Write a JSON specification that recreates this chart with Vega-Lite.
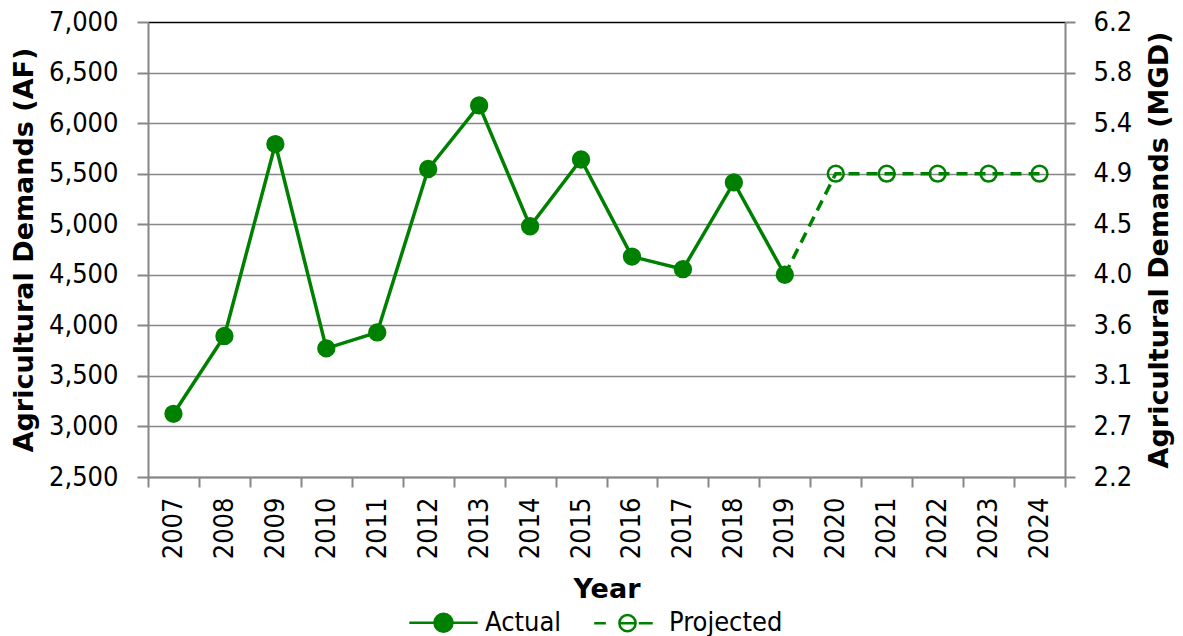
{
  "$schema": "https://vega.github.io/schema/vega-lite/v6.json",
  "width": 917,
  "height": 455,
  "autosize": {"type": "none"},
  "padding": {"left": 148, "top": 22, "right": 118, "bottom": 159},
  "background": "#ffffff",
  "config": {
    "view": {"stroke": null},
    "axis": {
      "labelFont": "DejaVu Sans Condensed, DejaVu Sans",
      "labelFontSize": 27,
      "labelColor": "#000000",
      "titleFont": "DejaVu Sans",
      "titleFontWeight": "bold",
      "titleFontSize": 27,
      "titleColor": "#000000",
      "domainColor": "#868686",
      "domainWidth": 2,
      "tickColor": "#868686",
      "tickWidth": 2,
      "gridColor": "#878787",
      "gridWidth": 1.6
    },
    "legend": {
      "orient": "bottom",
      "direction": "horizontal",
      "layout": {"bottom": {"anchor": "middle"}},
      "labelFont": "DejaVu Sans Condensed, DejaVu Sans",
      "labelFontSize": 27,
      "labelColor": "#000000",
      "symbolSize": 324,
      "symbolStrokeWidth": 2.5,
      "symbolStrokeColor": "#008000",
      "labelOffset": 28,
      "columnPadding": 27,
      "offset": 6
    }
  },
  "data": {
    "values": [
      {"year": 2007, "value": 3125, "series": "Actual"},
      {"year": 2008, "value": 3895, "series": "Actual"},
      {"year": 2009, "value": 5793, "series": "Actual"},
      {"year": 2010, "value": 3772, "series": "Actual"},
      {"year": 2011, "value": 3930, "series": "Actual"},
      {"year": 2012, "value": 5546, "series": "Actual"},
      {"year": 2013, "value": 6175, "series": "Actual"},
      {"year": 2014, "value": 4980, "series": "Actual"},
      {"year": 2015, "value": 5640, "series": "Actual"},
      {"year": 2016, "value": 4680, "series": "Actual"},
      {"year": 2017, "value": 4555, "series": "Actual"},
      {"year": 2018, "value": 5413, "series": "Actual"},
      {"year": 2019, "value": 4500, "series": "Actual"},
      {"year": 2019, "value": 4500, "series": "Projected"},
      {"year": 2020, "value": 5500, "series": "Projected"},
      {"year": 2021, "value": 5500, "series": "Projected"},
      {"year": 2022, "value": 5500, "series": "Projected"},
      {"year": 2023, "value": 5500, "series": "Projected"},
      {"year": 2024, "value": 5500, "series": "Projected"}
    ]
  },
  "encoding": {
    "x": {
      "field": "year",
      "type": "ordinal",
      "scale": {"type": "band", "paddingInner": 0, "paddingOuter": 0},
      "axis": {
        "title": "Year",
        "labelAngle": -90,
        "tickBand": "extent",
        "tickSize": 10,
        "labelPadding": 10,
        "titlePadding": 18,
        "grid": false
      }
    }
  },
  "layer": [
    {
      "layer": [
        {
          "transform": [{"filter": "datum.series == 'Actual'"}],
          "mark": {"type": "line", "color": "#008000", "strokeWidth": 3.5},
          "encoding": {
            "y": {
              "field": "value",
              "type": "quantitative",
              "scale": {"domain": [2500, 7000], "nice": false, "zero": false},
              "axis": {
                "title": "Agricultural Demands (AF)",
                "values": [2500, 3000, 3500, 4000, 4500, 5000, 5500, 6000, 6500, 7000],
                "format": ",.0f",
                "tickSize": 11,
                "labelPadding": 19,
                "titlePadding": 10,
                "grid": true,
                "gridColor": {"condition": {"test": "datum.value === 7000", "value": "#000000"}, "value": "#878787"}
              }
            }
          }
        },
        {
          "transform": [{"filter": "datum.series == 'Projected'"}],
          "mark": {"type": "line", "color": "#008000", "strokeWidth": 3.5, "strokeDash": [11, 7]},
          "encoding": {
            "y": {"field": "value", "type": "quantitative"}
          }
        },
        {
          "transform": [{"filter": "datum.series == 'Actual' || datum.year != 2019"}],
          "mark": {"type": "point", "shape": "circle", "filled": true, "stroke": "#008000", "strokeWidth": 2.5, "size": 250, "opacity": 1},
          "encoding": {
            "y": {"field": "value", "type": "quantitative"},
            "fill": {
              "field": "series",
              "type": "nominal",
              "scale": {"domain": ["Actual", "Projected"], "range": ["#008000", "transparent"]},
              "legend": {"title": null}
            }
          }
        },
        {
          "transform": [{"filter": "datum.year == 2019"}],
          "mark": {"type": "point", "filled": true, "stroke": "#008000", "strokeWidth": 2.5, "opacity": 1, "clip": true},
          "encoding": {
            "y": {"datum": 99999, "type": "quantitative"},
            "fill": {"field": "series", "type": "nominal", "legend": {"title": null}},
            "shape": {
              "field": "series",
              "type": "nominal",
              "scale": {
                "domain": ["Actual", "Projected"],
                "range": [
                  "M-3.8,0H3.8M-1,0A1,1 0 1,0 1,0A1,1 0 1,0 -1,0Z",
                  "M-3.7,0H-2.4M-0.9,0H0.9M1.25,0H2.8M-0.9,0A0.9,0.9 0 1,0 0.9,0A0.9,0.9 0 1,0 -0.9,0Z"
                ]
              },
              "legend": {"title": null}
            }
          }
        }
      ]
    },
    {
      "mark": {"type": "point", "opacity": 0},
      "encoding": {
        "y": {
          "field": "value",
          "type": "quantitative",
          "scale": {"domain": [2500, 7000], "nice": false, "zero": false},
          "axis": {
            "orient": "right",
            "title": "Agricultural Demands (MGD)",
            "values": [2500, 3000, 3500, 4000, 4500, 5000, 5500, 6000, 6500, 7000],
            "labelExpr": "format(datum.value * 0.000892742, '.1f')",
            "tickSize": 10,
            "labelPadding": 18,
            "titlePadding": 15,
            "titleAngle": 270,
            "titleBaseline": "top",
            "grid": false
          }
        }
      }
    }
  ],
  "resolve": {"scale": {"y": "independent"}}
}
